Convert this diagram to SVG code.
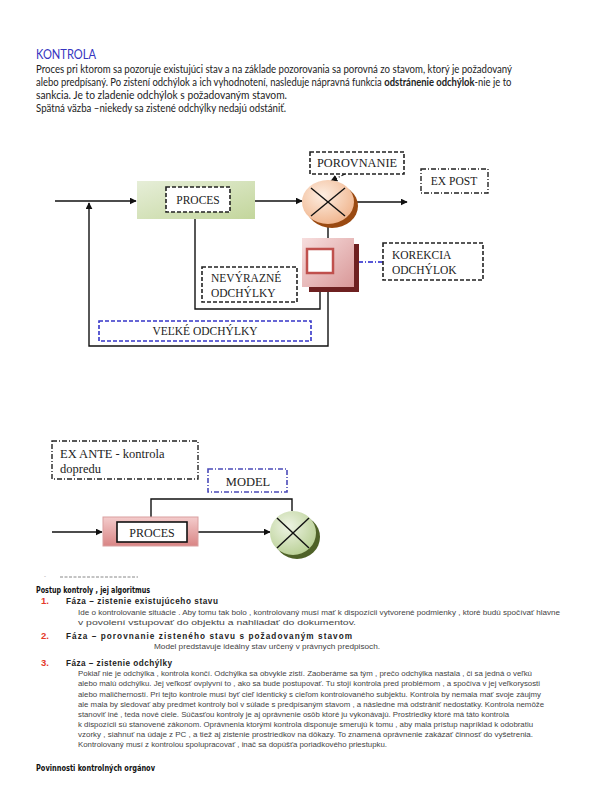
<svg xmlns="http://www.w3.org/2000/svg" width="600" height="800" viewBox="0 0 600 800">
<style>
.intro{font-family:Lato,"Open Sans","Liberation Sans",sans-serif;font-size:10.8px;fill:#222}
.tm{font-family:"Liberation Serif",serif;font-size:11.5px;fill:#222}
.box{fill:#fff;stroke:#222;stroke-width:1.6;stroke-dasharray:4,2}
.dd{fill:#fff;stroke:#222;stroke-width:1.4;stroke-dasharray:5,2,1,2}
.bl{fill:#fff;stroke:#3535c8;stroke-width:1.6;stroke-dasharray:4,2}
.bdd{fill:#fff;stroke:#4a4ab8;stroke-width:1.6;stroke-dasharray:5,2,1,2}
.ln{fill:none;stroke:#111;stroke-width:1.4}
.hd{font-family:"DejaVu Sans Condensed","DejaVu Sans",sans-serif;font-weight:bold;font-size:8px;fill:#111}
.fz{font-family:"Liberation Sans",Arial,sans-serif;font-weight:bold;font-size:8.2px;fill:#222}
.num{font-family:"Liberation Sans",Arial,sans-serif;font-weight:bold;font-size:9.5px;fill:#e53a2a}
.bd{font-family:"Liberation Sans",Arial,sans-serif;font-size:7.2px;fill:#444}
</style>
<defs>
<marker id="ah" viewBox="0 0 10 10" refX="9" refY="5" markerWidth="7" markerHeight="7" markerUnits="userSpaceOnUse" orient="auto"><path d="M0,0 L10,5 L0,10 z" fill="#111"/></marker>
<marker id="ahb" viewBox="0 0 10 10" refX="9" refY="5" markerWidth="8" markerHeight="8" markerUnits="userSpaceOnUse" orient="auto"><path d="M0,0 L10,5 L0,10 z" fill="#2222cc"/></marker>
<linearGradient id="gGreen" x1="0" y1="0" x2="1" y2="1"><stop offset="0" stop-color="#e6eed8"/><stop offset="1" stop-color="#c3d69c"/></linearGradient>
<radialGradient id="gPeach" cx="0.4" cy="0.35" r="0.7"><stop offset="0" stop-color="#fdeee2"/><stop offset="1" stop-color="#f0b48c"/></radialGradient>
<linearGradient id="gPink" x1="0" y1="0" x2="1" y2="1"><stop offset="0" stop-color="#f7dede"/><stop offset="1" stop-color="#d99898"/></linearGradient>
<linearGradient id="gPink2" x1="0" y1="0" x2="0" y2="1"><stop offset="0" stop-color="#f4cccc"/><stop offset="1" stop-color="#d98585"/></linearGradient>
<radialGradient id="gLime" cx="0.4" cy="0.35" r="0.7"><stop offset="0" stop-color="#eef4e4"/><stop offset="1" stop-color="#b8cf93"/></radialGradient>
</defs>

<g id="intro">
<text x="36" y="59" style="font-family:Lato,'Open Sans',sans-serif;font-size:13px;fill:#3535c0" textLength="60" lengthAdjust="spacingAndGlyphs">KONTROLA</text>
<text class="intro" x="36" y="73" textLength="476" lengthAdjust="spacingAndGlyphs">Proces pri ktorom sa pozoruje existujúci stav a na základe pozorovania sa porovná zo stavom, ktorý je požadovaný</text>
<text class="intro" transform="translate(36,86) scale(0.875,1)" x="0" y="0">alebo predpísaný. Po zistení odchýlok a ich vyhodnotení, nasleduje nápravná funkcia <tspan font-weight="bold">odstránenie odchýlok</tspan>-nie je to</text>
<text class="intro" x="36" y="99" textLength="251" lengthAdjust="spacingAndGlyphs">sankcia. Je to zladenie odchýlok s požadovaným stavom.</text>
<text class="intro" x="36" y="112" textLength="250" lengthAdjust="spacingAndGlyphs">Spätná väzba –niekedy sa zistené odchýlky nedajú odstániť.</text>
</g>

<g id="connectors-top">
<line class="ln" x1="55" y1="201" x2="136" y2="201" marker-end="url(#ah)"/>
<polyline class="ln" points="328,287 328,346 89,346 89,203" marker-end="url(#ah)"/>
<line class="ln" x1="255" y1="201" x2="302" y2="201" marker-end="url(#ah)"/>
<line class="ln" x1="355" y1="202" x2="407" y2="202" marker-end="url(#ah)"/>
<line class="ln" x1="328" y1="224" x2="328" y2="238"/>
<polyline class="ln" points="195,219 195,309 320,309 320,273"/>
<line x1="345" y1="174" x2="331" y2="181" stroke="#222" stroke-width="1.3" stroke-dasharray="4,2,1,2" marker-end="url(#ah)"/>
<line x1="383" y1="262" x2="335" y2="262" stroke="#2222cc" stroke-width="1.5" stroke-dasharray="5,2,1,2" marker-end="url(#ahb)"/>
</g>

<g id="proces-top">
<rect x="137" y="181" width="118" height="38" fill="url(#gGreen)"/>
<rect class="box" x="166" y="187" width="64" height="25"/>
<text class="tm" x="198" y="204" text-anchor="middle">PROCES</text>
</g>

<g id="porovnanie">
<rect class="box" x="310" y="152" width="94" height="22"/>
<text class="tm" x="357" y="167" text-anchor="middle" textLength="80" lengthAdjust="spacingAndGlyphs">POROVNANIE</text>
</g>

<g id="ex-post">
<rect class="dd" x="421" y="169" width="67" height="24"/>
<text class="tm" x="454" y="185" text-anchor="middle">EX POST</text>
</g>

<g id="comparator-top">
<ellipse cx="332" cy="206" rx="26" ry="22" fill="#9a4a12"/>
<ellipse cx="328" cy="202" rx="26" ry="22" fill="url(#gPeach)"/>
<line class="ln" x1="311" y1="188" x2="345" y2="216"/>
<line class="ln" x1="345" y1="188" x2="311" y2="216"/>
</g>

<g id="korekcia-block">
<rect x="309" y="244" width="50" height="48" fill="#6e2020"/>
<rect x="302" y="238" width="52" height="49" fill="url(#gPink)"/>
<rect x="307" y="249" width="26" height="24" fill="#fff" stroke="#c0504d" stroke-width="2.5"/>
</g>

<g id="korekcia">
<rect class="box" x="383" y="243" width="100" height="37"/>
<text class="tm" x="392" y="259">KOREKCIA</text>
<text class="tm" x="392" y="274">ODCHÝLOK</text>
</g>

<g id="nevyrazne">
<rect class="box" x="202" y="267" width="95" height="35"/>
<text class="tm" x="211" y="282">NEVÝRAZNÉ</text>
<text class="tm" x="211" y="297">ODCHÝLKY</text>
</g>

<g id="velke">
<rect class="bl" x="99" y="321" width="212" height="20"/>
<text class="tm" x="205" y="335" text-anchor="middle">VEĽKÉ ODCHÝLKY</text>
</g>

<g id="ex-ante">
<rect class="dd" x="52" y="441" width="146" height="38"/>
<text class="tm" x="60" y="458" style="font-size:12.5px">EX ANTE - kontrola</text>
<text class="tm" x="60" y="473" style="font-size:12.5px">dopredu</text>
</g>

<g id="model">
<rect class="bdd" x="208" y="469" width="79" height="23"/>
<text class="tm" x="248" y="486" text-anchor="middle" style="font-size:12.5px">MODEL</text>
</g>

<g id="connectors-bottom">
<line class="ln" x1="52" y1="532" x2="102" y2="532" marker-end="url(#ah)"/>
<line class="ln" x1="198" y1="532" x2="270" y2="532" marker-end="url(#ah)"/>
<polyline class="ln" points="151,517 151,499 292,499 292,511"/>
</g>

<g id="proces-bottom">
<rect x="103" y="517" width="95" height="29" fill="url(#gPink2)" stroke="#d9a0a0" stroke-width="1"/>
<rect x="117" y="522" width="70" height="20" fill="#fff" stroke="#111" stroke-width="1.6"/>
<text class="tm" x="152" y="537" text-anchor="middle" style="font-size:12px">PROCES</text>
</g>

<g id="comparator-bottom">
<ellipse cx="297" cy="537" rx="23" ry="22" fill="#4f6228"/>
<ellipse cx="293" cy="533" rx="23" ry="22" fill="url(#gLime)"/>
<line class="ln" x1="277" y1="518" x2="309" y2="548"/>
<line class="ln" x1="309" y1="518" x2="277" y2="548"/>
</g>

<g id="text-section">
<text x="44" y="578" style="font-family:'Liberation Sans',sans-serif;font-size:6px;fill:#999">-</text>
<line x1="60" y1="577" x2="138" y2="577" stroke="#888" stroke-width="1" stroke-dasharray="3,1.5"/>
<text class="hd" x="36" y="593" textLength="114" lengthAdjust="spacingAndGlyphs">Postup kontroly , jej algoritmus</text>

<text class="num" x="41" y="604">1.</text>
<text class="fz" x="66" y="604" textLength="152" lengthAdjust="spacing">Fáza – zistenie existujúceho stavu</text>
<text class="bd" x="78" y="614.5" textLength="482" lengthAdjust="spacingAndGlyphs">Ide o kontrolovanie situácie .  Aby tomu tak bolo , kontrolovaný musí mať k dispozícii vytvorené podmienky , ktoré budú spočívať hlavne</text>
<text class="bd" x="78" y="624.5" textLength="278" lengthAdjust="spacingAndGlyphs">v povolení vstupovať do objektu a nahliadať do dokumentov.</text>

<text class="num" x="41" y="639">2.</text>
<text class="fz" x="66" y="639" textLength="286" lengthAdjust="spacing">Fáza – porovnanie zisteného stavu s požadovaným stavom</text>
<text class="bd" x="154" y="648.5" textLength="226" lengthAdjust="spacingAndGlyphs">Model predstavuje ideálny stav určený v právnych predpisoch.</text>

<text class="num" x="41" y="666">3.</text>
<text class="fz" x="66" y="666" textLength="106" lengthAdjust="spacing">Fáza – zistenie odchýlky</text>
<text class="bd" x="78" y="676" textLength="454" lengthAdjust="spacingAndGlyphs">Pokiaľ nie je odchýlka , kontrola končí. Odchýlka sa obvykle zistí. Zaoberáme sa tým , prečo odchýlka nastala , či sa jedná o veľkú</text>
<text class="bd" x="78" y="686" textLength="462" lengthAdjust="spacingAndGlyphs">alebo malú odchýlku. Jej veľkosť ovplyvní to , ako sa bude postupovať. Tu stojí kontrola pred problémom , a spočíva v jej veľkorysosti</text>
<text class="bd" x="78" y="696.5" textLength="463" lengthAdjust="spacingAndGlyphs">alebo maličherností. Pri tejto kontrole musí byť cieľ identický s cieľom kontrolovaného subjektu. Kontrola by nemala mať svoje záujmy</text>
<text class="bd" x="78" y="706.5" textLength="466" lengthAdjust="spacingAndGlyphs">ale mala by sledovať aby predmet kontroly bol v súlade s predpísaným stavom , a následne má odstrániť nedostatky. Kontrola nemôže</text>
<text class="bd" x="78" y="717" textLength="431" lengthAdjust="spacingAndGlyphs">stanoviť iné , teda nové ciele. Súčasťou kontroly je aj oprávnenie osôb ktoré ju vykonávajú. Prostriedky ktoré má táto kontrola</text>
<text class="bd" x="78" y="727" textLength="455" lengthAdjust="spacingAndGlyphs">k dispozícii sú stanovené zákonom. Oprávnenia ktorými kontrola disponuje smerujú k tomu , aby mala prístup napríklad k odobratiu</text>
<text class="bd" x="78" y="737" textLength="455" lengthAdjust="spacingAndGlyphs">vzorky , siahnuť na údaje z PC , a tiež aj zistenie prostriedkov na dôkazy. To znamená oprávnenie zakázať činnosť do vyšetrenia.</text>
<text class="bd" x="78" y="747" textLength="309" lengthAdjust="spacingAndGlyphs">Kontrolovaný musí z kontrolou spolupracovať , inač sa dopúšťa poriadkového priestupku.</text>

<text class="hd" x="36" y="771" textLength="119" lengthAdjust="spacingAndGlyphs">Povinnosti kontrolných orgánov</text>
</g>
</svg>
